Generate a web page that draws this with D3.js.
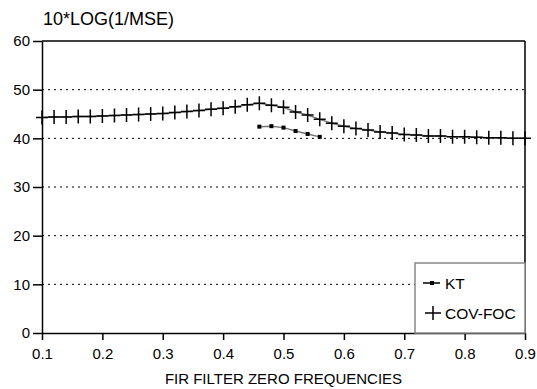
<!DOCTYPE html>
<html>
<head>
<meta charset="utf-8">
<script src="https://cdn.jsdelivr.net/npm/d3@7"></script>
<style>
  body { margin: 0; background: #fff; }
  svg text { font-family: "Liberation Sans", Arial, sans-serif; fill: #000; }
</style>
</head>
<body>
<div id="chart"></div>
<script>
// COV-FOC sampled every 0.02 from 0.10 to 0.90
const covX = d3.range(41).map(i => +(0.1 + i * 0.02).toFixed(2));
const covY = [44.3, 44.4, 44.4, 44.5, 44.5, 44.6, 44.7, 44.8, 44.9, 45.0,
  45.1, 45.3, 45.5, 45.7, 46.0, 46.2, 46.5, 46.9, 47.2, 46.8,
  46.4, 45.4, 44.8, 43.9, 43.1, 42.5, 42.0, 41.7, 41.3, 41.1,
  40.8, 40.7, 40.5, 40.5, 40.3, 40.3, 40.2, 40.1, 40.1, 40.0, 40.0];
const ktX = [0.46, 0.48, 0.50, 0.52, 0.54, 0.56];
const ktY = [42.4, 42.5, 42.2, 41.5, 40.9, 40.3];
const xTicks = [0.1, 0.2, 0.3, 0.4, 0.5, 0.6, 0.7, 0.8, 0.9];
const yTicks = [0, 10, 20, 30, 40, 50, 60];
const gridValues = [10, 20, 30, 40, 50];

const W = 537, H = 389;
const margin = { top: 41, right: 12, bottom: 56, left: 42 };
const width = W - margin.left - margin.right;
const height = H - margin.top - margin.bottom;

const svg = d3.select('#chart').append('svg')
  .attr('width', W).attr('height', H);
const g = svg.append('g')
  .attr('transform', `translate(${margin.left},${margin.top})`);

const x = d3.scaleLinear().domain([0.1, 0.9]).range([0, width]);
const y = d3.scaleLinear().domain([0, 60]).range([height, 0]);

// dotted gridlines
g.append('g').selectAll('line').data(gridValues).enter()
  .append('line')
  .attr('x1', 0).attr('x2', width)
  .attr('y1', d => y(d)).attr('y2', d => y(d))
  .style('stroke', '#000')
  .style('stroke-width', 1)
  .style('stroke-dasharray', '2,4');

// frame top + right
g.append('line').attr('x1', 0).attr('x2', width).attr('y1', 0).attr('y2', 0)
  .style('stroke', '#000').style('stroke-width', 1.5);
g.append('line').attr('x1', width).attr('x2', width).attr('y1', 0).attr('y2', height)
  .style('stroke', '#000').style('stroke-width', 1.5);

// axes
const xAxis = g.append('g')
  .attr('transform', `translate(0,${height})`)
  .call(d3.axisBottom(x).tickValues(xTicks).tickFormat(d3.format('.1f')).tickSize(7).tickSizeOuter(0).tickPadding(8));
const yAxis = g.append('g')
  .call(d3.axisLeft(y).tickValues(yTicks).tickSize(9).tickSizeOuter(0).tickPadding(3));

[xAxis, yAxis].forEach(a => {
  a.select('.domain').style('stroke', '#000').style('stroke-width', 1.5);
  a.selectAll('.tick line').style('stroke', '#000').style('stroke-width', 1.5);
  a.selectAll('.tick text').style('font-size', '15px').style('font-family', '"Liberation Sans", Arial, sans-serif');
});

const covData = covX.map((v, i) => ({ x: v, y: covY[i] }));
const ktData = ktX.map((v, i) => ({ x: v, y: ktY[i] }));

const line = d3.line().x(d => x(d.x)).y(d => y(d.y));

// COV-FOC
g.append('path').datum(covData)
  .attr('d', line)
  .style('fill', 'none')
  .style('stroke', '#777')
  .style('stroke-width', 1.5);
const plus = 6;
g.append('g').selectAll('path').data(covData).enter()
  .append('path')
  .attr('d', d => `M${x(d.x) - plus},${y(d.y)}H${x(d.x) + plus}M${x(d.x)},${y(d.y) - plus - 1}V${y(d.y) + plus + 1}`)
  .style('stroke', '#000')
  .style('stroke-width', 1.5)
  .style('fill', 'none');

// KT
g.append('path').datum(ktData)
  .attr('d', line)
  .style('fill', 'none')
  .style('stroke', '#777')
  .style('stroke-width', 1.5);
g.append('g').selectAll('rect').data(ktData).enter()
  .append('rect')
  .attr('x', d => x(d.x) - 2).attr('y', d => y(d.y) - 2)
  .attr('width', 4).attr('height', 4)
  .style('fill', '#000');

// legend
const legend = g.append('g')
  .attr('transform', `translate(${width - 110},${height - 70})`);
legend.append('rect')
  .attr('width', 110).attr('height', 70)
  .style('fill', '#fff')
  .style('stroke', '#888')
  .style('stroke-width', 1.5);
legend.append('line').attr('x1', 8).attr('x2', 25).attr('y1', 20).attr('y2', 20)
  .style('stroke', '#000').style('stroke-width', 1.5);
legend.append('rect').attr('x', 15).attr('y', 18).attr('width', 4).attr('height', 4).style('fill', '#000');
legend.append('path').attr('d', 'M10,50H26M18,43V57')
  .style('stroke', '#000').style('stroke-width', 1.5);
legend.append('text').attr('x', 30).attr('y', 20).attr('dy', '0.36em')
  .style('font-size', '15.5px').text('KT');
legend.append('text').attr('x', 30).attr('y', 50).attr('dy', '0.36em')
  .style('font-size', '15.5px').text('COV-FOC');

// titles
svg.append('text')
  .attr('x', 43).attr('y', 25)
  .style('font-size', '18px')
  .text('10*LOG(1/MSE)');
svg.append('text')
  .attr('x', margin.left + width / 2).attr('y', 384)
  .attr('text-anchor', 'middle')
  .style('font-size', '15px')
  .text('FIR FILTER ZERO FREQUENCIES');
</script>
</body>
</html>
